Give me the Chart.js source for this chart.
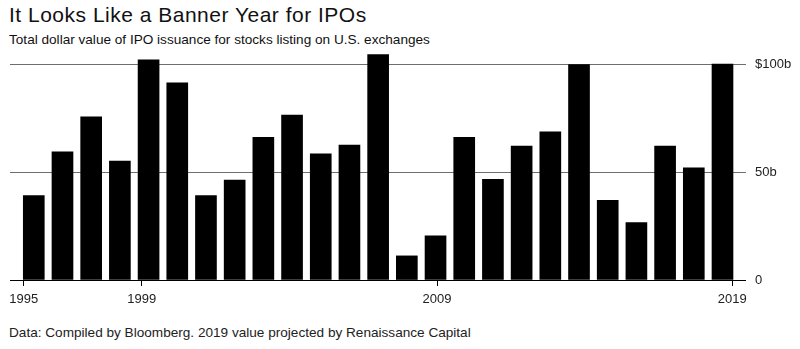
<!DOCTYPE html>
<html>
<head>
<meta charset="utf-8">
<script src="https://cdn.jsdelivr.net/npm/chart.js@4"></script>
<style>
  body { margin: 0; background: #fff; font-family: "Liberation Sans", Arial, sans-serif; color: #111; }
  #wrap { position: relative; width: 800px; height: 349px; }
  #title { position: absolute; left: 9px; top: 3px; font-size: 21px; letter-spacing: 0.5px; }
  #subtitle { position: absolute; left: 9px; top: 32px; font-size: 13.6px; }
  #box { position: absolute; left: 0; top: 50px; width: 800px; height: 258px; }
  #source { position: absolute; left: 9px; top: 325px; font-size: 13.6px; color: #222; }
</style>
</head>
<body>
<div id="wrap">
  <div id="title">It Looks Like a Banner Year for IPOs</div>
  <div id="subtitle">Total dollar value of IPO issuance for stocks listing on U.S. exchanges</div>
  <div id="box"><canvas id="ipoChart"></canvas></div>
  <div id="source">Data: Compiled by Bloomberg. 2019 value projected by Renaissance Capital</div>
</div>
<script>
// IPO issuance, billions of dollars
const years = [1995, 1996, 1997, 1998, 1999, 2000, 2001, 2002, 2003, 2004, 2005, 2006, 2007,
  2008, 2009, 2010, 2011, 2012, 2013, 2014, 2015, 2016, 2017, 2018, 2019];
const issuance = [39.2, 59.5, 75.8, 55.2, 102.2, 91.6, 39.2, 46.4, 66.2, 76.6, 58.6, 62.6, 104.7,
  11.2, 20.5, 66.2, 46.8, 62.2, 68.8, 100, 37, 26.7, 62.2, 52.1, 100.3];
const yearTicks = [1995, 1999, 2009, 2019];
const valueTicks = [0, 50, 100];

new Chart(document.getElementById('ipoChart'), {
  type: 'bar',
  data: {
    datasets: [{
      data: years.map((y, i) => ({ x: y, y: issuance[i] })),
      backgroundColor: '#000',
      barThickness: 21,
      xAxisID: 'x'
    }]
  },
  options: {
    responsive: true,
    maintainAspectRatio: false,
    animation: false,
    layout: { padding: { left: 10, right: 0, top: 0, bottom: 0 } },
    plugins: { legend: { display: false }, tooltip: { enabled: false } },
    scales: {
      // bar positions
      x: {
        type: 'linear',
        display: false,
        offset: false,
        grid: { offset: false },
        min: 1994.171,
        max: 2019.819
      },
      // year ticks below the baseline
      years: {
        type: 'linear',
        position: 'bottom',
        offset: false,
        min: 1994.536,
        max: 2019.464,
        afterBuildTicks: s => { s.ticks = yearTicks.map(v => ({ value: v })); },
        afterFit: s => { s.height = 28; },
        border: { display: false },
        grid: { offset: false, drawOnChartArea: false, drawTicks: true, tickLength: 6, tickColor: '#000', lineWidth: 1 },
        ticks: {
          padding: 6,
          color: '#222',
          font: { family: '"Liberation Sans", Arial, sans-serif', size: 13 },
          callback: v => String(v),
          maxRotation: 0
        }
      },
      y: {
        position: 'right',
        min: 0,
        max: 106.8,
        afterBuildTicks: s => { s.ticks = valueTicks.map(v => ({ value: v })); },
        // fixed width, and no extra room above the plot for the top label
        afterFit: s => { s.width = 54; s.paddingTop = 0; s.paddingBottom = 0; },
        border: { display: false },
        grid: {
          drawTicks: false,
          color: c => c.tick && c.tick.value === 0 ? '#000' : '#6e6e6e',
          lineWidth: 1
        },
        ticks: {
          padding: 9,
          color: '#222',
          font: { family: '"Liberation Sans", Arial, sans-serif', size: 13 },
          callback: v => v === 100 ? '$100b' : v === 0 ? '0' : v + 'b'
        }
      }
    }
  }
});
</script>
</body>
</html>
